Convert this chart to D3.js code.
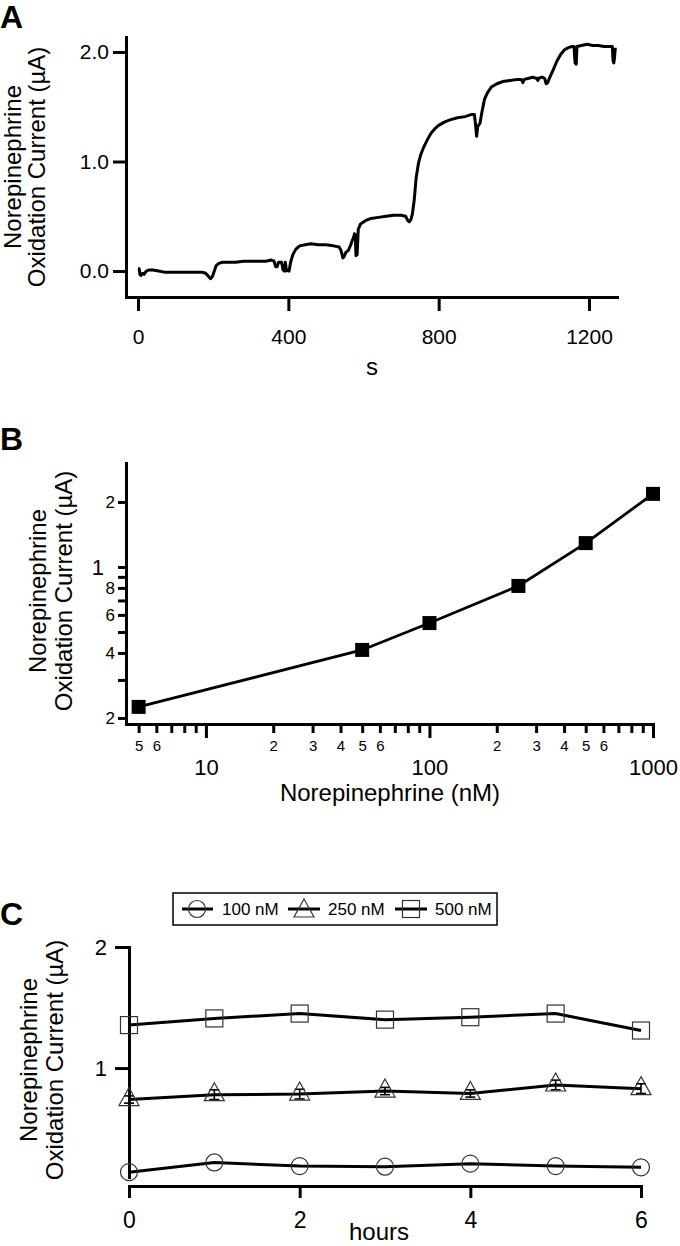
<!DOCTYPE html>
<html><head><meta charset="utf-8">
<script src="https://cdn.jsdelivr.net/npm/d3@7"></script>
<style>
html,body{margin:0;padding:0;background:#fff;}
svg{display:block;font-family:"Liberation Sans",Arial,Helvetica,sans-serif;}
</style></head><body>
<svg id="chart" width="680" height="1246"></svg>
<script>
// ---------- Panel A: amperometric trace ----------
const traceTime = [0,3,5,8,12,16,22,30,40,55,70,90,110,130,150,170,180,188,193,198,203,208,215,225,240,260,280,300,320,340,355,362,366,370,374,382,386,389,392,395,398,402,406,412,420,430,445,460,480,500,520,535,540,545,548,553,560,566,570,573,576,578,580,583,586,592,605,620,640,660,680,700,712,718,722,726,730,735,740,746,752,760,770,780,790,800,815,830,850,870,888,895,898,901,904,910,915,922,930,940,955,970,990,1010,1020,1024,1028,1040,1050,1060,1064,1066,1075,1082,1086,1090,1096,1105,1115,1125,1135,1145,1155,1160,1163,1166,1168,1180,1195,1210,1225,1240,1255,1262,1264,1266,1268,1270];
const traceCurrent = [0.02,0.02,-0.03,-0.04,-0.02,-0.03,0.00,0.01,0.01,0.00,-0.01,-0.01,-0.01,-0.01,-0.01,-0.01,-0.02,-0.05,-0.07,-0.05,0.00,0.05,0.07,0.08,0.08,0.08,0.09,0.09,0.09,0.09,0.10,0.09,0.04,0.04,0.08,0.08,0.01,0.00,0.08,0.00,0.01,0.00,0.08,0.15,0.20,0.23,0.24,0.25,0.24,0.24,0.23,0.22,0.19,0.12,0.13,0.17,0.19,0.24,0.28,0.30,0.34,0.33,0.14,0.15,0.38,0.43,0.46,0.48,0.49,0.50,0.51,0.51,0.50,0.46,0.45,0.47,0.52,0.65,0.85,0.98,1.06,1.13,1.20,1.26,1.30,1.33,1.36,1.38,1.40,1.41,1.43,1.43,1.34,1.23,1.32,1.35,1.45,1.57,1.63,1.68,1.71,1.73,1.74,1.75,1.75,1.72,1.75,1.76,1.77,1.76,1.74,1.76,1.77,1.76,1.71,1.72,1.77,1.84,1.92,1.98,2.02,2.04,2.05,2.05,1.90,1.89,2.05,2.06,2.07,2.06,2.06,2.05,2.05,2.05,1.92,1.90,1.95,2.04];
const aXTicks = [0, 400, 800, 1200];
const aYTicks = [0, 1, 2];

// ---------- Panel B: calibration (log-log) ----------
const concNM = [5, 50, 100, 250, 500, 1000];
const concCurrent = [0.225, 0.413, 0.55, 0.817, 1.29, 2.18];
const bYTicks = [0.2, 0.3, 0.4, 0.5, 0.6, 0.7, 0.8, 0.9, 1, 2];
const bYLabels = {0.2:"2", 0.4:"4", 0.6:"6", 0.8:"8", 1:"1", 2:"2"};
const bXMinor = [5,6,7,8,9,20,30,40,50,60,70,80,90,200,300,400,500,600,700,800,900];
const bXMinorLabels = {5:"5",6:"6",20:"2",30:"3",40:"4",50:"5",60:"6",200:"2",300:"3",400:"4",500:"5",600:"6"};
const bXMajor = [10, 100, 1000];

// ---------- Panel C: stability over hours ----------
const hours = [0, 1, 2, 3, 4, 5, 6];
const c100 = [0.14, 0.22, 0.19, 0.185, 0.21, 0.19, 0.18];
const c250 = [0.74, 0.78, 0.785, 0.81, 0.79, 0.86, 0.83];
const c250err = [0.03, 0.04, 0.04, 0.03, 0.03, 0.04, 0.04];
const c500 = [1.355, 1.41, 1.45, 1.40, 1.42, 1.45, 1.31];
const cSeriesNames = ["100 nM", "250 nM", "500 nM"];
const cXTicks = [0, 2, 4, 6];
const cYTicks = [1, 2];

const svg = d3.select("#chart");

function styleAxis(g, fs) {
  g.select(".domain").attr("stroke", "#000").attr("stroke-width", 3).attr("stroke-linecap", "square");
  g.selectAll(".tick line").attr("stroke", "#000").attr("stroke-width", 3);
  g.selectAll(".tick text").attr("fill", "#000").attr("font-size", fs).attr("font-family", "Liberation Sans, Arial, sans-serif");
}
function yTitle(x1, x2, yc) {
  const g = svg.append("g").attr("font-size", 24).attr("fill", "#000");
  g.append("text").attr("transform", `translate(${x1},${yc}) rotate(-90)`).attr("text-anchor", "middle").text("Norepinephrine");
  g.append("text").attr("transform", `translate(${x2},${yc}) rotate(-90)`).attr("text-anchor", "middle").text("Oxidation Current (µA)");
}
function panelLetter(t, x, y) {
  svg.append("text").attr("x", x).attr("y", y).attr("font-size", 32).attr("font-weight", "bold").text(t);
}

// ===== Panel A =====
const xA = d3.scaleLinear().domain([-32, 1274.5]).range([126, 617]);
const yA = d3.scaleLinear().domain([-0.237, 2.137]).range([297, 37]);
panelLetter("A", 0, 28);
const gAy = svg.append("g").attr("transform", "translate(126,0)")
  .call(d3.axisLeft(yA).tickValues(aYTicks).tickFormat(d3.format(".1f")).tickSize(13).tickSizeOuter(0).tickPadding(4));
styleAxis(gAy, 21);
const gAx = svg.append("g").attr("transform", "translate(0,297)")
  .call(d3.axisBottom(xA).tickValues(aXTicks).tickFormat(d3.format("d")).tickSize(14).tickSizeOuter(0).tickPadding(18));
styleAxis(gAx, 21);
svg.append("path")
  .datum(traceTime.map((t, i) => [t, traceCurrent[i]]))
  .attr("fill", "none").attr("stroke", "#000").attr("stroke-width", 3).attr("stroke-linejoin", "round")
  .attr("d", d3.line().x(d => xA(d[0])).y(d => yA(d[1])));
svg.append("text").attr("x", 372).attr("y", 375).attr("text-anchor", "middle").attr("font-size", 24).text("s");
yTitle(21, 45, 167);

// ===== Panel B =====
const xB = d3.scaleLog().domain([4.39, 1000]).range([126, 653]);
const yB = d3.scaleLog().domain([0.1875, 3.03]).range([724, 463]);
panelLetter("B", 0, 450);
const gBy = svg.append("g").attr("transform", "translate(126,0)")
  .call(d3.axisLeft(yB).tickValues(bYTicks).tickFormat(d => bYLabels[d] || "").tickSize(8).tickSizeOuter(0).tickPadding(3));
styleAxis(gBy, 17);
gBy.selectAll(".tick text").filter(d => d === 1).attr("font-size", 22).attr("x", -22);
const gBxMinor = svg.append("g").attr("transform", "translate(0,724)")
  .call(d3.axisBottom(xB).tickValues(bXMinor).tickFormat(d => bXMinorLabels[d] || "").tickSize(9).tickSizeOuter(0).tickPadding(7));
styleAxis(gBxMinor, 15);
const gBxMajor = svg.append("g").attr("transform", "translate(0,724)")
  .call(d3.axisBottom(xB).tickValues(bXMajor).tickFormat(d3.format("d")).tickSize(14).tickSizeOuter(0).tickPadding(21));
styleAxis(gBxMajor, 22);
gBxMajor.select(".domain").remove();
svg.append("path")
  .datum(concNM.map((c, i) => [c, concCurrent[i]]))
  .attr("fill", "none").attr("stroke", "#000").attr("stroke-width", 2.8)
  .attr("d", d3.line().x(d => xB(d[0])).y(d => yB(d[1])));
svg.append("g").selectAll("rect").data(concNM.map((c, i) => [c, concCurrent[i]])).join("rect")
  .attr("x", d => xB(d[0]) - 7).attr("y", d => yB(d[1]) - 7).attr("width", 14).attr("height", 14).attr("fill", "#000");
svg.append("text").attr("x", 390).attr("y", 801).attr("text-anchor", "middle").attr("font-size", 24).text("Norepinephrine (nM)");
yTitle(46, 72, 591);

// ===== Panel C =====
const xC = d3.scaleLinear().domain([0, 6]).range([129, 641]);
const yC = d3.scaleLinear().domain([0.1, 2]).range([1177, 947]);
panelLetter("C", 0, 925);
const gCy = svg.append("g").attr("transform", "translate(129,0)")
  .call(d3.axisLeft(yC).tickValues(cYTicks).tickFormat(d3.format("d")).tickSize(14).tickSizeOuter(0).tickPadding(8));
styleAxis(gCy, 22);
const gCx = svg.append("g").attr("transform", "translate(0,1186)")
  .call(d3.axisBottom(xC).tickValues(cXTicks).tickFormat(d3.format("d")).tickSize(12).tickSizeOuter(0).tickPadding(14));
styleAxis(gCx, 23);
svg.append("text").attr("x", 379).attr("y", 1240).attr("text-anchor", "middle").attr("font-size", 24).text("hours");
yTitle(37, 63, 1060);

const lineC = d3.line().x((d, i) => xC(hours[i])).y(d => yC(d));
const markerStroke = "#333";
function circleMark(g, cx, cy) {
  g.append("circle").attr("cx", cx).attr("cy", cy).attr("r", 8.5).attr("fill", "none").attr("stroke", markerStroke).attr("stroke-width", 1.2);
}
function triMark(g, cx, cy) {
  g.append("path").attr("d", `M${cx},${cy - 12} L${cx + 10},${cy + 6} L${cx - 10},${cy + 6} Z`)
    .attr("fill", "none").attr("stroke", markerStroke).attr("stroke-width", 1.2);
}
function sqMark(g, cx, cy) {
  g.append("rect").attr("x", cx - 8.5).attr("y", cy - 8.5).attr("width", 17).attr("height", 17)
    .attr("fill", "none").attr("stroke", markerStroke).attr("stroke-width", 1.2);
}
const series = [[c100, circleMark], [c250, triMark], [c500, sqMark]];
const gC = svg.append("g");
series.forEach(([vals, mk]) => {
  gC.append("path").datum(vals).attr("fill", "none").attr("stroke", "#000").attr("stroke-width", 3).attr("d", lineC);
});
// error bars for 250 nM
c250.forEach((v, i) => {
  const x = xC(hours[i]), y1 = yC(v - c250err[i]), y2 = yC(v + c250err[i]);
  const eg = gC.append("g").attr("stroke", "#000").attr("stroke-width", 1.6);
  eg.append("line").attr("x1", x).attr("x2", x).attr("y1", y1).attr("y2", y2);
  eg.append("line").attr("x1", x - 5).attr("x2", x + 5).attr("y1", y1).attr("y2", y1);
  eg.append("line").attr("x1", x - 5).attr("x2", x + 5).attr("y1", y2).attr("y2", y2);
});
series.forEach(([vals, mk]) => {
  vals.forEach((v, i) => mk(gC, xC(hours[i]), yC(v)));
});

// legend
const lg = svg.append("g");
lg.append("rect").attr("x", 173).attr("y", 893).attr("width", 324).attr("height", 32)
  .attr("fill", "#fff").attr("stroke", "#000").attr("stroke-width", 1.5);
const legItems = [[182, 213, 197, 222, circleMark], [288, 320, 304, 328, triMark], [395, 427, 411, 435, sqMark]];
legItems.forEach(([l1, l2, mc, tx, mk], i) => {
  lg.append("line").attr("x1", l1).attr("x2", l2).attr("y1", 909).attr("y2", 909).attr("stroke", "#000").attr("stroke-width", 3);
  mk(lg, mc, 909 + (mk === triMark ? 2 : 0));
  lg.append("text").attr("x", tx).attr("y", 915).attr("font-size", 17).text(cSeriesNames[i]);
});
</script>
</body></html>
